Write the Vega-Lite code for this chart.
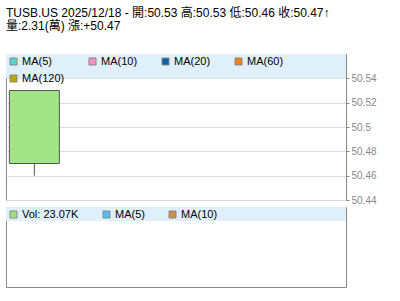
{
  "$schema": "https://vega.github.io/schema/vega-lite/v6.json",
  "padding": {"left": 5, "top": 6, "right": 0, "bottom": 0},
  "background": "white",
  "title": {
    "text": "TUSB.US 2025/12/18 - 開:50.53 高:50.53 低:50.46 收:50.47↑",
    "subtitle": "量:2.31(萬) 漲:+50.47",
    "anchor": "start",
    "frame": "group",
    "font": "Liberation Sans, Noto Sans CJK TC",
    "fontSize": 12,
    "fontWeight": "normal",
    "color": "#000",
    "subtitleFont": "Liberation Sans, Noto Sans CJK TC",
    "subtitleFontSize": 12,
    "subtitleColor": "#000",
    "subtitlePadding": 1,
    "offset": 21
  },
  "datasets": {
    "ohlc": [
      {"date": "2025/12/18", "i": 0, "open": 50.53, "high": 50.53, "low": 50.46, "close": 50.47, "volume": 23070}
    ],
    "priceLegend": [
      {"series": "MA(5)"}, {"series": "MA(10)"}, {"series": "MA(20)"}, {"series": "MA(60)"}, {"series": "MA(120)"}
    ],
    "volLegend": [
      {"series": "Vol: 23.07K"}, {"series": "MA(5)"}, {"series": "MA(10)"}
    ]
  },
  "spacing": 0,
  "config": {
    "view": {"stroke": "#888", "strokeWidth": 1},
    "font": "Liberation Sans, Noto Sans CJK TC",
    "axisY": {
      "labelOverlap": false,
      "labelFont": "Liberation Sans",
      "labelFontSize": 10,
      "labelColor": "#888",
      "labelPadding": 2,
      "tickColor": "#888",
      "tickSize": 3,
      "domainColor": "#888",
      "gridColor": "#dcdcdc",
      "grid": true
    }
  },
  "vconcat": [
    {
      "width": 340,
      "height": 146,
      "data": {"name": "ohlc"},
      "layer": [
        {
          "mark": {"type": "rect", "fill": "#e0f0fa"},
          "encoding": {
            "y": {"datum": 50.54, "type": "quantitative",
              "scale": {"domain": [50.44, 50.56], "nice": false, "zero": false},
              "axis": {"orient": "right", "values": [50.44, 50.46, 50.48, 50.5, 50.52, 50.54], "format": "~g", "title": null}
            },
            "y2": {"datum": 50.56}
          }
        },
        {
          "mark": {"type": "rule", "stroke": "#555", "strokeWidth": 1},
          "encoding": {
            "x": {"field": "i", "type": "quantitative", "scale": {"domain": [-0.43, 5.64], "nice": false, "zero": false}, "axis": null},
            "y": {"field": "low", "type": "quantitative",
              "axis": {"orient": "right", "values": [50.44, 50.46, 50.48, 50.5, 50.52, 50.54], "format": "~g", "title": null}},
            "y2": {"field": "high"}
          }
        },
        {
          "mark": {"type": "bar", "orient": "vertical", "size": 50, "fill": "#a3e487", "stroke": "#555", "strokeWidth": 1},
          "encoding": {
            "x": {"field": "i", "type": "quantitative", "axis": null},
            "y": {"field": "open", "type": "quantitative",
              "axis": {"orient": "right", "values": [50.44, 50.46, 50.48, 50.5, 50.52, 50.54], "format": "~g", "title": null}},
            "y2": {"field": "close"}
          }
        },
        {
          "data": {"name": "priceLegend"},
          "mark": {"type": "square", "opacity": 0, "stroke": "#888", "strokeWidth": 1},
          "encoding": {
            "fill": {
              "field": "series", "type": "nominal",
              "scale": {"domain": ["MA(5)", "MA(10)", "MA(20)", "MA(60)", "MA(120)"],
                "range": ["#55d5d5", "#f890c0", "#1060b0", "#f08020", "#b8a800"]},
              "legend": {
                "title": null,
                "orient": "top-left",
                "direction": "horizontal",
                "offset": 0,
                "padding": 2,
                "columns": 4,
                "gridAlign": "none",
                "columnPadding": 22,
                "rowPadding": 5,
                "symbolType": "square",
                "symbolSize": 49,
                "symbolOpacity": 1,
                "symbolStrokeColor": "#888",
                "symbolStrokeWidth": 1,
                "labelFont": "Liberation Sans",
                "labelFontSize": 11,
                "labelColor": "#000",
                "labelOffset": 3
              }
            }
          }
        }
      ]
    },
    {
      "width": 340,
      "height": 80,
      "data": {"name": "ohlc"},
      "layer": [
        {
          "mark": {"type": "rect", "fill": "#e0f0fa"},
          "encoding": {
            "y": {"datum": 0.825, "type": "quantitative", "scale": {"domain": [0, 1], "nice": false, "zero": false}, "axis": null},
            "y2": {"datum": 1}
          }
        },
        {
          "data": {"name": "volLegend"},
          "mark": {"type": "square", "opacity": 0, "stroke": "#888", "strokeWidth": 1},
          "encoding": {
            "fill": {
              "field": "series", "type": "nominal",
              "scale": {"domain": ["Vol: 23.07K", "MA(5)", "MA(10)"],
                "range": ["#a0e080", "#50c0f0", "#c89048"]},
              "legend": {
                "title": null,
                "orient": "top-left",
                "direction": "horizontal",
                "offset": 0,
                "padding": 2,
                "columns": 3,
                "gridAlign": "none",
                "columnPadding": 22,
                "symbolType": "square",
                "symbolSize": 49,
                "symbolOpacity": 1,
                "symbolStrokeColor": "#888",
                "symbolStrokeWidth": 1,
                "labelFont": "Liberation Sans",
                "labelFontSize": 11,
                "labelColor": "#000",
                "labelOffset": 3
              }
            }
          }
        }
      ]
    }
  ],
  "resolve": {"scale": {"x": "independent", "y": "independent", "fill": "independent"}, "legend": {"fill": "independent"}}
}
